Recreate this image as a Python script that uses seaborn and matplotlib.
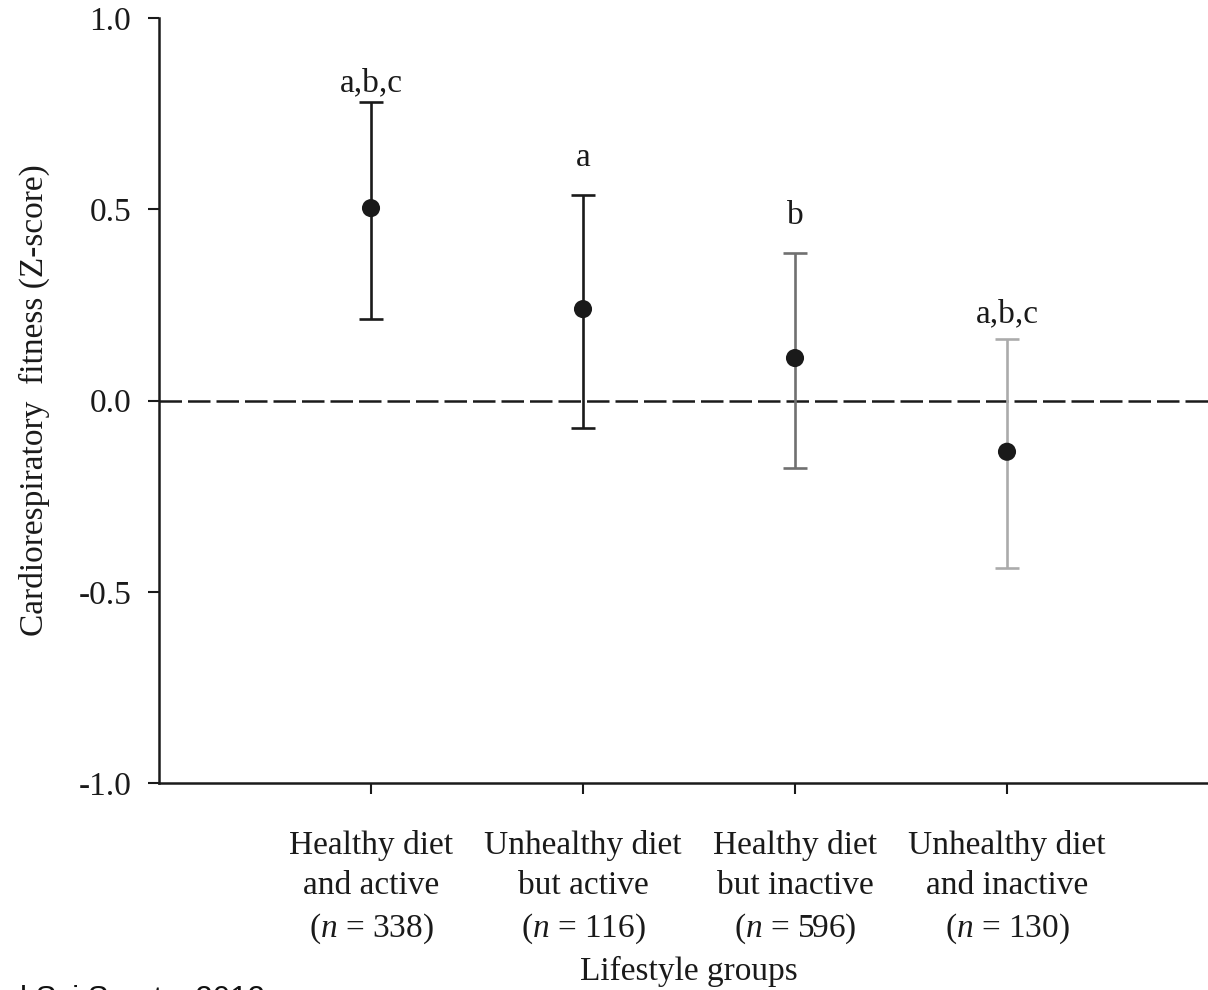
import numpy as np
import matplotlib
matplotlib.use("Agg")
import matplotlib.pyplot as plt
import seaborn as sns

# ---- data ----
groups = ["Healthy diet\nand active\n($n$ = 338)",
          "Unhealthy diet\nbut active\n($n$ = 116)",
          "Healthy diet\nbut inactive\n($n$ = 596)",
          "Unhealthy diet\nand inactive\n($n$ = 130)"]
means = [0.503, 0.239, 0.111, -0.134]
lower = [0.213, -0.071, -0.176, -0.437]
upper = [0.781, 0.537, 0.386, 0.160]
sig_labels = ["a,b,c", "a", "b", "a,b,c"]
sig_label_y = [0.809, 0.613, 0.461, 0.205]
bar_colors = ["#1a1a1a", "#1a1a1a", "#707070", "#ababab"]
yticks = [-1.0, -0.5, 0.0, 0.5, 1.0]

sns.set_style("ticks")
plt.rcParams["font.family"] = ["Liberation Serif", "DejaVu Serif"]
plt.rcParams["mathtext.fontset"] = "custom"
plt.rcParams["mathtext.it"] = "Liberation Serif:italic"
plt.rcParams["mathtext.rm"] = "Liberation Serif"

W, H = 1208, 990
fig = plt.figure(figsize=(W / 100, H / 100), dpi=100)
left, right, top, bottom = 159, 1219, 18, 783
ax = fig.add_axes([left / W, 1 - bottom / H, (right - left) / W, (bottom - top) / H])

pos = np.arange(1, len(groups) + 1)

# zero reference line
ax.axhline(0, color="#1a1a1a", lw=1.8, dashes=(9, 2.4), zorder=1)

# error bars
for x, m, lo, hi, c in zip(pos, means, lower, upper, bar_colors):
    ax.errorbar([x], [m], yerr=[[m - lo], [hi - m]], fmt="none", ecolor=c,
                elinewidth=1.9, capsize=8.6, capthick=1.9, zorder=2)

# means
sns.scatterplot(x=pos, y=means, ax=ax, color="#1a1a1a", s=170, edgecolor="none",
                zorder=3, legend=False)

for x, lab, yl in zip(pos, sig_labels, sig_label_y):
    ax.text(x, yl, lab, ha="center", va="baseline", fontsize=24, color="#1a1a1a")

ax.set_xlim(0, 5)
ax.set_ylim(-1.0, 1.0)
ax.set_yticks(yticks)
ax.set_yticklabels([f"{v:.1f}" for v in yticks])
ax.set_xticks(pos)
ax.set_xticklabels(groups, linespacing=1.4)

sns.despine(ax=ax, top=True, right=True)
for s in ["left", "bottom"]:
    ax.spines[s].set_linewidth(1.8)
    ax.spines[s].set_color("#1a1a1a")
ax.tick_params(axis="both", direction="out", length=8, width=1.5, color="#1a1a1a",
               labelsize=24, labelcolor="#1a1a1a")
ax.tick_params(axis="x", pad=26)
ax.tick_params(axis="y", pad=12)

ax.set_ylabel("Cardiorespiratory  fitness (Z-score)", fontsize=24, color="#1a1a1a")
ax.yaxis.set_label_coords((50 - left) / (right - left), 0.5)
ax.set_xlabel("Lifestyle groups", fontsize=24, color="#1a1a1a")
ax.xaxis.set_label_coords(0.5, (bottom - 956) / (bottom - top))

fig.text(265 / W, (H - 1008) / H, "Med Sci Sports  2012", ha="right", va="baseline",
         fontsize=22.5, family=["Liberation Sans", "DejaVu Sans"], color="#111111")

fig.savefig("out.png", dpi=100)
